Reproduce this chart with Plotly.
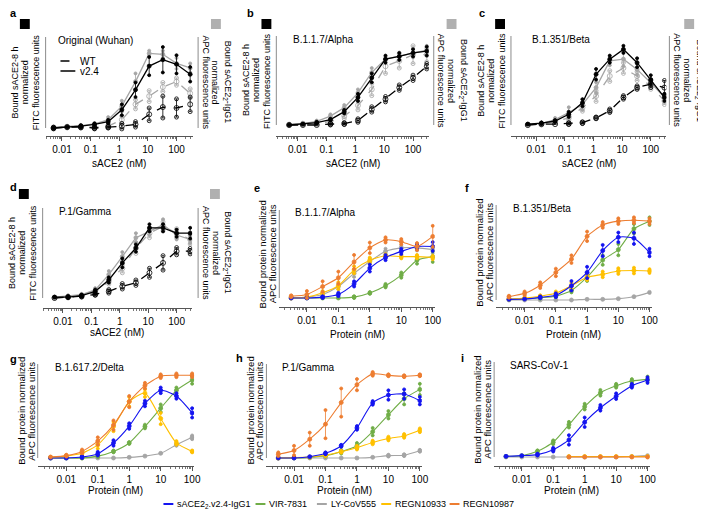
import math
import plotly.graph_objects as go

# concentrations (nM)
CONC_ACE2 = [0.00508, 0.0152, 0.0457, 0.137, 0.412, 1.23, 3.70, 11.1, 33.3, 100, 300]
CONC_PROT = [0.00316, 0.01, 0.0316, 0.1, 0.316, 1, 3.16, 10, 31.6, 100]

TICK_VALS = [0.01, 0.1, 1, 10, 100]
TICK_TEXT = ["0.01", "0.1", "1", "10", "100"]

# a  Original (Wuhan)   K = black (sACE2-8 h), G = grey (sACE2_2-IgG1)
A_K_V24 = [0, 1, 2, 4, 7, 20, 42, 68, 75, 70, 59]
A_K_V24_SD = [0, 0, 1, 1, 2, 6, 8, 10, 14, 10, 8]
A_G_V24 = [1, 1.5, 2.5, 4.5, 9, 24, 51, 82, 81, 71, 66]
A_G_V24_SD = [0, 0, 1, 1, 3, 6, 9, 3, 4, 6, 5]
A_K_WT = [0, 1, 1, 0, 1, 2, 4, 15, 23, 22, 26]
A_K_WT_SD = [1, 0, 1, 1, 1, 3, 3, 7, 12, 10, 8]
A_G_WT = [0, 1, 1.5, 1, 2, 9, 26, 35, 45, 51, 38]
A_G_WT_SD = [0, 1, 1, 1, 2, 4, 5, 6, 5, 4, 5]

# b  B.1.1.7/Alpha
B_K_V24 = [0, 1, 2.6, 6, 15, 31, 53, 74, 77, 81, 83]
B_K_V24_SD = [0, 0, 1, 1, 2, 4, 5, 4, 4, 4, 5]
B_G_V24 = [1, 1.5, 4, 10, 19.5, 36, 59, 74, 77.5, 81, 84]
B_G_V24_SD = [0, 1, 1, 2, 3, 4, 5, 3, 4, 5, 5]
B_K_WT = [0, 0, 0, 1, 1.5, 5, 17.5, 29, 42, 53, 66]
B_K_WT_SD = [0, 0, 0, 1, 1, 2, 3, 3, 3, 3, 3]
B_G_WT = [0, 1, 1.5, 4, 10, 22, 40, 66, 72, 79, 79]
B_G_WT_SD = [0, 1, 1, 2, 3, 5, 7, 8, 8, 10, 8]

# c  B.1.351/Beta
C_K_V24 = [1, 2, 4.5, 12, 25, 57, 74, 85, 70, 51, 31]
C_K_V24_SD = [0, 1, 1, 3, 4, 6, 4, 4, 5, 5, 4]
C_G_V24 = [1, 1.5, 6, 14, 23, 42, 72, 74, 62.5, 47.5, 31]
C_G_V24_SD = [0, 1, 2, 6, 6, 6, 5, 8, 6, 4, 4]
C_G_WT = [0, 1, 4, 8, 19.5, 32.5, 55, 64, 55, 44, 27]
C_G_WT_SD = [0, 1, 1, 3, 4, 6, 6, 6, 5, 4, 4]
C_K_WT = [0, 1, 1, 1.5, 2.6, 8, 16, 31, 42, 46, 42]
C_K_WT_SD = [0, 0, 0, 1, 1, 1, 2, 2, 2, 4, 8]

# d  P.1/Gamma
D_K_V24 = [1, 1, 2.6, 7.4, 20, 39, 55.5, 78, 78, 72, 72]
D_K_V24_SD = [0, 1, 1, 2, 3, 5, 4, 4, 4, 4, 6]
D_G_V24 = [1, 2, 3.7, 9, 26, 46, 67, 74, 81.5, 70, 65]
D_G_V24_SD = [0, 1, 1, 2, 4, 5, 5, 4, 6, 5, 4]
D_G_WT = [0.4, 1, 2.6, 6, 18.5, 33, 55.5, 72, 79.6, 72, 65]
D_G_WT_SD = [0, 1, 1, 2, 3, 5, 6, 5, 5, 5, 5]
D_K_WT = [0, 1, 2, 4, 7.4, 13, 17, 28, 39, 52, 52]
D_K_WT_SD = [0, 0, 1, 1, 2, 3, 3, 5, 8, 4, 3]

# e  B.1.1.7/Alpha (proteins)
E_BLUE = [0, 0, 1, 4, 16, 34, 46, 53, 58.5, 58.5]
E_BLUE_SD = [0, 0, 1, 2, 3, 4, 3, 3, 3, 5]
E_GREEN = [0, 0, 0, 0, 1, 5.7, 14, 26, 43, 47]
E_GREEN_SD = [0, 0, 0, 0, 1, 1, 2, 3, 4, 6]
E_GRAY = [0, 1, 4, 13, 28, 41.5, 53, 57, 57, 55]
E_GRAY_SD = [0, 1, 2, 3, 4, 3, 3, 2, 3, 4]
E_YELLOW = [0, 1, 6, 14, 32, 43, 48, 47, 47, 46]
E_YELLOW_SD = [0, 1, 2, 4, 4, 3, 2, 2, 2, 2]
E_ORANGE = [2, 4, 13, 23, 41, 57, 66, 64, 58.5, 70]
E_ORANGE_SD = [1, 4, 6, 7, 8, 6, 3, 3, 4, 12]

# f  B.1.351/Beta
F_BLUE = [0.7, 1, 2.8, 5, 15, 29, 52, 66, 65, 50]
F_BLUE_SD = [0, 0, 1, 2, 5, 6, 6, 5, 6, 4]
F_GREEN = [0.7, 1.4, 2.4, 4, 10, 24, 42, 53, 75, 83]
F_GREEN_SD = [0, 0, 1, 1, 2, 4, 5, 6, 5, 4]
F_GRAY = [0, 0, 0, 0, 0, 0.7, 0.7, 1.4, 3.5, 8]
F_GRAY_SD = [0, 0, 0, 0, 0, 0, 0, 0, 0, 0]
F_YELLOW = [1, 2, 4, 7, 15, 24, 27, 30.5, 31, 30.5]
F_YELLOW_SD = [0, 1, 1, 2, 3, 3, 3, 3, 3, 2]
F_ORANGE = [3.5, 7, 15.6, 29, 43, 67, 79, 83, 84, 83]
F_ORANGE_SD = [1, 2, 3, 4, 4, 5, 3, 3, 3, 3]

# g  B.1.617.2/Delta
G_BLUE = [0, 0, 1, 4.6, 16, 34, 58, 72, 66, 48]
G_BLUE_SD = [0, 0, 1, 2, 3, 3, 3, 3, 3, 5]
G_GREEN = [0, 0, 0, 2, 7, 16, 33.5, 53, 72, 83]
G_GREEN_SD = [0, 0, 0, 1, 1, 1, 2, 4, 3, 4]
G_GRAY = [0, 0, 0, 0, 0, 0.7, 2, 5, 14, 22]
G_GRAY_SD = [0, 0, 0, 0, 0, 0, 0, 0, 1, 2]
G_YELLOW = [0.7, 2, 5, 14, 33.5, 60, 69, 42, 16, 7]
G_YELLOW_SD = [0, 1, 2, 4, 5, 5, 4, 6, 2, 1]
G_ORANGE = [1, 2.5, 7, 18, 35, 60, 77, 87, 88, 88]
G_ORANGE_SD = [0, 1, 2, 4, 5, 6, 3, 2, 2, 2]

# h  P.1/Gamma
H_BLUE = [0, 0, 1.4, 5, 13, 32, 58.6, 67, 68, 61]
H_BLUE_SD = [0, 0, 0, 1, 1, 2, 2, 5, 5, 4]
H_GREEN = [0, 0, 0.7, 2.5, 6.7, 13, 28, 46, 63, 73]
H_GREEN_SD = [0, 0, 0, 1, 2, 3, 4, 4, 6, 6]
H_GRAY = [0, 0, 0, 0, 0, 0, 0.7, 2.5, 3, 7.7]
H_GRAY_SD = [0, 0, 0, 0, 0, 0, 0, 1, 1, 1]
H_YELLOW = [0, 0.4, 1, 3, 6.7, 11, 16.5, 20.7, 23.5, 29.5]
H_YELLOW_SD = [0, 0, 0, 1, 1, 2, 2, 2, 2, 2]
H_ORANGE = [4, 8, 20, 36, 59, 78, 89.5, 88, 87, 88]
H_ORANGE_SD = [2, 5, 7, 15, 15, 6, 2, 1, 1, 1]

# i  SARS-CoV-1
I_BLUE = [0.7, 1.4, 2.5, 7.7, 18, 36.6, 51.8, 64, 75, 81]
I_BLUE_SD = [0, 0, 1, 2, 5, 5, 3, 3, 2, 3]
I_GREEN = [0.7, 1.4, 6, 15.5, 34, 53, 67.6, 75, 80, 81.7]
I_GREEN_SD = [0, 0, 1, 2, 3, 3, 3, 2, 2, 3]
I_GRAY = [0, 0, 0, 0, 0, 0, 0, 0, 0.5, 1.4]
I_GRAY_SD = [0, 0, 0, 0, 0, 0, 0, 0, 0, 0]
I_YELLOW = [None, None, None, None, 0.5, 0.5, 0.5, 0.5, 0.5, 0.5]
I_YELLOW_SD = [0, 0, 0, 0, 0, 0, 0, 0, 0, 0]
I_ORANGE = [None, None, None, None, 0, 0, 0, 0, 0, 0]
I_ORANGE_SD = [0, 0, 0, 0, 0, 0, 0, 0, 0, 0]

PROTEINS = ["sACE2<sub>2</sub>.v2.4-IgG1", "VIR-7831", "LY-CoV555", "REGN10933", "REGN10987"]
PROT_COLORS = ["#1414f0", "#70ad47", "#a5a5a5", "#ffc000", "#ed7d31"]

W, H = 706, 509
FONT = "Liberation Sans, Arial, sans-serif"


def px(x):
    return x / W


def py(y):
    return 1 - y / H


# panel geometry in pixels: left line, axis end, first/last point, top, baseline, x-axis y,
# right line, black/grey key squares
GEOM = {
    "a": dict(L=38, R=187, xf=46, xl=184, top=29, base=120, ax=128, RL=192, sk=12, sg=205, sy=16),
    "b": dict(L=271, R=425, xf=284, xl=423, top=28, base=117, ax=128, RL=430, sk=256, sg=443, sy=16),
    "c": dict(L=508, R=665, xf=525, xl=663, top=28, base=117, ax=128, RL=668, sk=492, sg=683, sy=16),
    "d": dict(L=35, R=186, xf=47, xl=184, top=200, base=290, ax=300, RL=192, sk=11, sg=204, sy=186),
    "e": dict(L=274, R=431, xf=286, xl=429, top=202, base=290, ax=299),
    "f": dict(L=493, R=650, xf=506, xl=648, top=197, base=292, ax=299),
    "g": dict(L=30, R=188, xf=43, xl=186, top=356, base=450, ax=458),
    "h": dict(L=261, R=418, xf=273, xl=416, top=356, base=450, ax=458),
    "i": dict(L=491, R=648, xf=503, xl=646, top=354, base=449, ax=458),
}

K, G = "#000000", "#a6a6a6"
SACE2_PANELS = {
    "a": [(A_G_WT, A_G_WT_SD, G, True), (A_G_V24, A_G_V24_SD, G, False),
          (A_K_WT, A_K_WT_SD, K, True), (A_K_V24, A_K_V24_SD, K, False)],
    "b": [(B_G_WT, B_G_WT_SD, G, True), (B_G_V24, B_G_V24_SD, G, False),
          (B_K_WT, B_K_WT_SD, K, True), (B_K_V24, B_K_V24_SD, K, False)],
    "c": [(C_G_WT, C_G_WT_SD, G, True), (C_G_V24, C_G_V24_SD, G, False),
          (C_K_WT, C_K_WT_SD, K, True), (C_K_V24, C_K_V24_SD, K, False)],
    "d": [(D_G_WT, D_G_WT_SD, G, True), (D_G_V24, D_G_V24_SD, G, False),
          (D_K_WT, D_K_WT_SD, K, True), (D_K_V24, D_K_V24_SD, K, False)],
}
PROT_PANELS = {
    "e": [(E_GRAY, E_GRAY_SD), (E_GREEN, E_GREEN_SD), (E_YELLOW, E_YELLOW_SD), (E_BLUE, E_BLUE_SD), (E_ORANGE, E_ORANGE_SD)],
    "f": [(F_GRAY, F_GRAY_SD), (F_GREEN, F_GREEN_SD), (F_YELLOW, F_YELLOW_SD), (F_BLUE, F_BLUE_SD), (F_ORANGE, F_ORANGE_SD)],
    "g": [(G_GRAY, G_GRAY_SD), (G_GREEN, G_GREEN_SD), (G_YELLOW, G_YELLOW_SD), (G_BLUE, G_BLUE_SD), (G_ORANGE, G_ORANGE_SD)],
    "h": [(H_GRAY, H_GRAY_SD), (H_GREEN, H_GREEN_SD), (H_YELLOW, H_YELLOW_SD), (H_BLUE, H_BLUE_SD), (H_ORANGE, H_ORANGE_SD)],
    "i": [(I_GRAY, I_GRAY_SD), (I_GREEN, I_GREEN_SD), (I_YELLOW, I_YELLOW_SD), (I_BLUE, I_BLUE_SD), (I_ORANGE, I_ORANGE_SD)],
}
PROT_ORDER_COLORS = [PROT_COLORS[2], PROT_COLORS[1], PROT_COLORS[3], PROT_COLORS[0], PROT_COLORS[4]]

TITLES = {"a": "Original (Wuhan)", "b": "B.1.1.7/Alpha", "c": "B.1.351/Beta", "d": "P.1/Gamma",
          "e": "B.1.1.7/Alpha", "f": "B.1.351/Beta", "g": "B.1.617.2/Delta", "h": "P.1/Gamma",
          "i": "SARS-CoV-1"}
LABEL_POS = {"a": (1, 5), "b": (240, 5), "c": (475, 5), "d": (1, 179), "e": (247, 180),
             "f": (461, 180), "g": (1, 351), "h": (229, 350), "i": (457, 350)}

fig = go.Figure()
layout = dict(width=W, height=H, margin=dict(l=0, r=0, t=0, b=0),
              paper_bgcolor="white", plot_bgcolor="white", showlegend=False,
              font=dict(family=FONT, size=10, color="black"))
shapes, annos = [], []

minor_vals = [m * 10 ** e for e in range(-3, 3) for m in range(2, 10)]


def txt(x, y, s, size=10, xa="left", ya="middle", angle=0, bold=False, color="black"):
    if bold:
        s = "<b>" + s + "</b>"
    annos.append(dict(x=px(x), y=py(y), xref="paper", yref="paper", text=s, showarrow=False,
                      xanchor=xa, yanchor=ya, textangle=angle, borderpad=0,
                      font=dict(size=size, color=color, family=FONT)))


def add_series(n, conc, mean, sd, color, open_marker=False, dash=None, smooth=False, msize=3, lw=1.3):
    xr = "x" if n == 1 else "x%d" % n
    yr = "y" if n == 1 else "y%d" % n
    rx, ry = [], []
    for c, m, s in zip(conc, mean, sd):
        if m is None or s == 0:
            continue
        rx += [c, c]
        ry += [m - s, m + s]
    sym = "circle-open" if open_marker else "circle"
    fig.add_trace(go.Scatter(x=rx, y=ry, mode="markers", xaxis=xr, yaxis=yr,
                             marker=dict(color=color, size=msize, symbol=sym, line=dict(width=0.8, color=color)),
                             hoverinfo="skip"))
    fig.add_trace(go.Scatter(
        x=conc, y=mean, mode="lines+markers", xaxis=xr, yaxis=yr,
        line=dict(color=color, width=lw, dash=dash, shape="spline" if smooth else "linear", smoothing=0.6),
        marker=dict(color=color, size=msize + 1, symbol=sym, line=dict(width=0.8, color=color)),
        error_y=dict(type="data", array=sd, visible=True, color=color, thickness=0.8, width=1.5),
    ))


for n, key in enumerate("abcdefghi", start=1):
    g = GEOM[key]
    conc = CONC_ACE2 if key in SACE2_PANELS else CONC_PROT
    lo, hi = math.log10(conc[0]), math.log10(conc[-1])
    ppd = (g["xl"] - g["xf"]) / (hi - lo)
    xrange = [lo - (g["xf"] - g["L"]) / ppd, hi + (g["R"] - g["xl"]) / ppd]
    ppu = (g["base"] - g["top"]) / 100.0
    yrange = [-(g["ax"] - g["base"]) / ppu, 100 + 4 / ppu]
    xa = "xaxis" if n == 1 else "xaxis%d" % n
    ya = "yaxis" if n == 1 else "yaxis%d" % n
    yr = "y" if n == 1 else "y%d" % n
    layout[xa] = dict(domain=[px(g["L"]), px(g["R"])], type="log", range=xrange,
                      anchor=yr, tickvals=TICK_VALS, ticktext=TICK_TEXT,
                      ticks="outside", ticklen=4, tickwidth=0.8, tickcolor="#555",
                      showline=True, linecolor="#555", linewidth=0.8,
                      showgrid=False, zeroline=False, tickfont=dict(size=10),
                      minor=dict(tickvals=minor_vals, ticks="outside", ticklen=2,
                                 tickwidth=0.6, tickcolor="#777", showgrid=False))
    layout[ya] = dict(domain=[py(g["ax"]), py(g["top"] - 4)], range=yrange,
                      anchor="x" if n == 1 else "x%d" % n, visible=False)
    shapes.append(dict(type="line", xref="paper", yref=yr, x0=px(g["L"]), x1=px(g["L"]),
                       y0=0, y1=100, line=dict(color="#8c8c8c", width=1)))
    ymid = (g["top"] + g["base"]) / 2

    if key in SACE2_PANELS:
        shapes.append(dict(type="line", xref="paper", yref=yr, x0=px(g["RL"]), x1=px(g["RL"]),
                           y0=0, y1=100, line=dict(color="#8c8c8c", width=1)))
        for mean, sd, color, wt in SACE2_PANELS[key]:
            add_series(n, conc, mean, sd, color, open_marker=wt, dash="dash" if wt else None,
                       msize=4 if wt else 3)
        txt((g["L"] + g["R"]) / 2, 155 if key != "d" else 324, "sACE2 (nM)", xa="center")
        for dx, s in zip([-31, -21, -10], ["Bound sACE2-8 h", "normalized", "FITC fluorescence units"]):
            txt(g["L"] + dx, ymid, s, size=9, xa="center", angle=-90)
        for dx, s in zip([30, 18, 8], ["Bound sACE2<sub>2</sub>-IgG1", "normalized", "APC fluorescence units"]):
            txt(g["RL"] + dx, ymid, s, size=9, xa="center", angle=90)
        shapes.append(dict(type="rect", xref="paper", yref="paper",
                           x0=px(g["sk"]), x1=px(g["sk"] + 10), y0=py(g["sy"] - 5), y1=py(g["sy"] + 5),
                           fillcolor="black", line=dict(width=0)))
        shapes.append(dict(type="rect", xref="paper", yref="paper",
                           x0=px(g["sg"]), x1=px(g["sg"] + 10), y0=py(g["sy"] - 5), y1=py(g["sy"] + 5),
                           fillcolor="#b0b0b0", line=dict(width=0)))
    else:
        for (mean, sd), color in zip(PROT_PANELS[key], PROT_ORDER_COLORS):
            add_series(n, conc, mean, sd, color, smooth=True, msize=3, lw=1.1)
        txt((g["L"] + g["R"]) / 2, 326 if key in "ef" else 482, "Protein (nM)", xa="center")
        for dx, s in zip([-17, -7], ["Bound protein normalized", "APC fluorescence units"]):
            txt(g["L"] + dx, ymid, s, size=9.5, xa="center", angle=-90)

    txt(g["xf"] + 3, g["top"] + 3, TITLES[key], size=10)
    lx, ly = LABEL_POS[key]
    txt(lx, ly, key, size=11, bold=True)

# key inside panel a
shapes.append(dict(type="line", xref="paper", yref="paper", x0=px(53), x1=px(68), y0=py(53), y1=py(53),
                   line=dict(color="black", width=1.5, dash="dash")))
shapes.append(dict(type="line", xref="paper", yref="paper", x0=px(53), x1=px(68), y0=py(63), y1=py(63),
                   line=dict(color="black", width=1.5)))
txt(72, 53, "WT")
txt(72, 63, "v2.4")

# bottom legend
leg_x = [157, 250, 312, 377, 446]
for x0, name, color in zip(leg_x, PROTEINS, PROT_COLORS):
    shapes.append(dict(type="line", xref="paper", yref="paper", x0=px(x0), x1=px(x0 + 10),
                       y0=py(496), y1=py(496), line=dict(color=color, width=2)))
    txt(x0 + 13, 496, name, size=9)

layout["shapes"] = shapes
layout["annotations"] = annos
fig.update_layout(**layout)
fig.write_html("out.html")
